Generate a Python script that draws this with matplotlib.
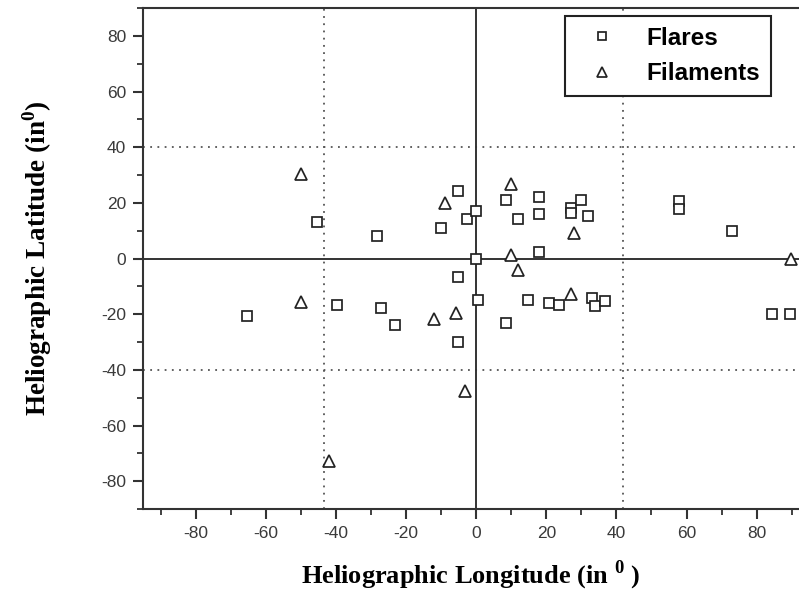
import matplotlib
matplotlib.use('Agg')
import matplotlib.pyplot as plt
from matplotlib.ticker import MultipleLocator

plt.rcParams['axes.unicode_minus'] = False
plt.rcParams['mathtext.fontset'] = 'custom'
plt.rcParams['mathtext.rm'] = 'Liberation Serif:bold'
plt.rcParams['mathtext.bf'] = 'Liberation Serif:bold'

# flares (squares)
flare_lon = [-65.5, -45.4, -28.2, -39.6, -27.3, -23.2, -5.2, -10.2, -2.5, -0.1,
             0.0, -5.2, 0.5, 8.4, 17.8, 11.9, 17.8, 17.8, 26.9, 26.9,
             29.8, 31.9, 14.8, 20.7, 23.5, 8.4, -5.3, 32.9, 33.8, 36.7,
             84.5, 89.6, 57.8, 57.8, 72.9]
flare_lat = [-20.8, 13.2, 8.1, -16.7, -17.7, -23.9, 24.3, 11.1, 14.2, 17.1,
             0.0, -6.8, -15.0, 21.1, 22.1, 14.2, 16.1, 2.2, 18.3, 16.3,
             21.1, 15.3, -15.0, -16.0, -16.8, -23.1, -29.9, -14.2, -17.0, -15.2,
             -20.0, -20.0, 20.7, 17.7, 9.9]

# filaments (triangles)
fil_lon = [-50.1, -50.1, -42.1, -9.0, 10.0, 10.0, 11.9, 27.8, 26.9, -12.1, -5.9, -3.1, 89.9]
fil_lat = [30.3, -15.8, -72.6, 20.1, 26.7, 1.2, -4.1, 9.3, -12.8, -21.8, -19.7, -47.5, 0.0]

# reference lines
dotted_lat = [40, -40]
dotted_lon = [-43.5, 42]

fig = plt.figure(figsize=(7.99, 5.93), dpi=100)
ax = fig.add_axes([143 / 799, 1 - 509 / 593, 1 - 143 / 799, (509 - 8) / 593])

dark = '#333333'
for v in dotted_lat:
    ax.axhline(v, color='#555555', lw=1.3, linestyle=(0, (1, 3)), zorder=1)
for v in dotted_lon:
    ax.axvline(v, color='#555555', lw=1.3, linestyle=(0, (1, 3)), zorder=1)
ax.axhline(0, color=dark, lw=1.4, zorder=1)
ax.axvline(0, color=dark, lw=1.4, zorder=1)

ax.plot(flare_lon, flare_lat, linestyle='none', marker='s', markersize=7.3,
        markerfacecolor='white', markeredgecolor='#222222', markeredgewidth=1.25,
        label='Flares', zorder=3)
ax.plot(fil_lon, fil_lat, linestyle='none', marker='^', markersize=8.5,
        markerfacecolor='white', markeredgecolor='#222222', markeredgewidth=1.25,
        label='Filaments', zorder=3)

ax.set_xlim(-95.1, 92.1)
ax.set_ylim(-90, 90)
ax.xaxis.set_minor_locator(MultipleLocator(10))
ax.yaxis.set_minor_locator(MultipleLocator(10))
ax.set_xticks([-80, -60, -40, -20, 0, 20, 40, 60, 80])
ax.set_yticks([-80, -60, -40, -20, 0, 20, 40, 60, 80])

ax.spines['right'].set_visible(False)
for s in ['left', 'bottom', 'top']:
    ax.spines[s].set_color(dark)
    ax.spines[s].set_linewidth(1.5)

ax.tick_params(which='major', direction='out', length=7, width=1.5, color=dark,
               labelsize=12.5, labelcolor='#3a3a3a', pad=5)
ax.tick_params(which='minor', direction='out', length=4.5, width=1.3, color=dark)
ax.tick_params(top=False, right=False)
for lbl in ax.get_xticklabels() + ax.get_yticklabels():
    lbl.set_fontfamily('Liberation Sans')

ax.set_xlabel('Heliographic Longitude (in $^{0}$ )', fontfamily='Liberation Serif',
              fontweight='bold', fontsize=19, labelpad=13)
ax.set_ylabel('Heliographic Latitude (in$^{0}$)', fontfamily='Liberation Serif',
              fontweight='bold', fontsize=19.5, labelpad=34)

leg = ax.legend(loc='upper left', bbox_to_anchor=(0.643, 0.984), borderaxespad=0,
                fancybox=False, edgecolor='#222222', framealpha=1,
                prop={'family': 'Liberation Sans', 'size': 17.5, 'weight': 'bold'},
                markerscale=0.85, handlelength=2.2, handletextpad=0.7,
                labelspacing=0.5, borderpad=0.45)
leg.get_frame().set_linewidth(1.5)

fig.savefig('out.png', dpi=100)
